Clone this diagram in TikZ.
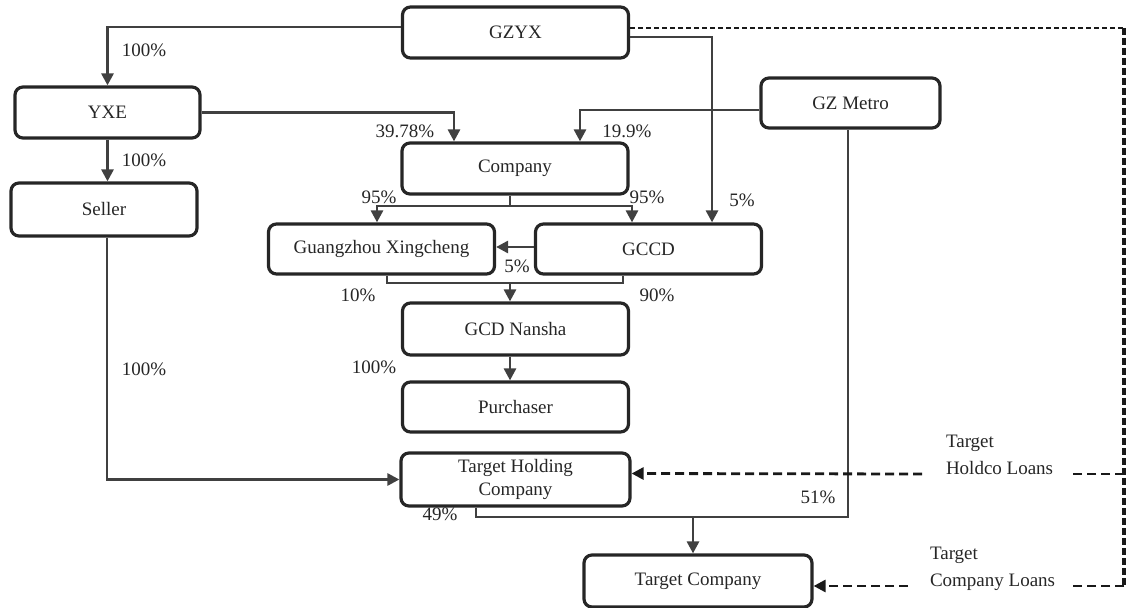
\documentclass[tikz,border=0pt]{standalone}
\usepackage{fontspec}
\setmainfont{Liberation Serif}
\usetikzlibrary{arrows.meta}

\begin{document}
\begin{tikzpicture}[x=0.5pt,y=-0.5pt,line width=1pt,>={Triangle[length=6pt,width=6pt]},
  box/.style={draw=black!85,line width=1.6pt,rounded corners=4pt,minimum width=113pt,
    minimum height=25.5pt,inner sep=0pt,align=center,text=black!85,font=\fontsize{9.5}{11.5}\selectfont},
  own/.style={draw=black!75,line width=1.4pt},
  loan/.style={draw=black!90,line width=1.4pt,dash pattern=on 4.5pt off 2.5pt},
  pct/.style={inner sep=0pt,text=black!85,font=\fontsize{9.5}{11.5}\selectfont}]
\useasboundingbox (0,0) rectangle (1128,608);
% entities
\node[box] (gzyx) at (515.5,32.5) {GZYX};
\node[box,minimum width=92.5pt] (yxe) at (107.5,112.5) {YXE};
\node[box,minimum width=93pt,minimum height=26.5pt] (seller) at (104,209.5) {Seller};
\node[box] (company) at (515,168.5) {Company};
\node[box,minimum width=89.5pt,minimum height=25pt] (gzmetro) at (850.5,103) {GZ Metro};
\node[box,minimum height=25pt] (gx) at (381.5,249) {Guangzhou Xingcheng};
\node[box,minimum height=25pt] (gccd) at (648.5,249) {GCCD};
\node[box,minimum height=26pt] (nansha) at (515.5,329) {GCD Nansha};
\node[box,minimum height=25pt] (purchaser) at (515.5,407) {Purchaser};
\node[box,minimum width=114.5pt,minimum height=26.5pt] (tholding) at (515.5,479.5) {Target Holding\\Company};
\node[box,minimum width=114pt,minimum height=26pt] (tcompany) at (698,581) {Target Company};
% ownership lines
\draw[own,->] ([yshift=2.75pt]gzyx.west) -| (yxe.north);
\draw[own,->] (yxe.east) -| ([xshift=-30.5pt]company.north);
\draw[own,->] (yxe.south) -- (yxe.south |- seller.north);
\draw[own,->] ([yshift=-3.5pt]gzmetro.west) -| ([xshift=32.5pt]company.north);
\draw[own,->] ([yshift=-2.25pt]gzyx.east) -| ([xshift=31.75pt]gccd.north);
\coordinate (cbranch) at (510,206);
\draw[own] ([xshift=-2.5pt]company.south) -- (cbranch);
\draw[own,->] (cbranch) -| ([xshift=-2.25pt]gx.north);
\draw[own,->] (cbranch) -| ([xshift=-8.25pt]gccd.north);
\draw[own,->] ([yshift=1pt]gccd.west) -- ([yshift=1pt]gx.east);
\coordinate (nbranch) at (510,283);
\draw[own] ([xshift=2.75pt]gx.south) |- ([xshift=-12.75pt]gccd.south |- nbranch)
  -- ([xshift=-12.75pt]gccd.south);
\draw[own,->] (nbranch) -- (nbranch |- nansha.north);
\draw[own,->] ([xshift=-2.75pt]nansha.south) -- ([xshift=-2.75pt]purchaser.north);
\draw[own,->] ([xshift=1.5pt]seller.south) |- (tholding.west);
\coordinate (tbranch) at (693,517);
\draw[own] ([xshift=-19.75pt]tholding.south) |- ([xshift=-1.25pt]gzmetro.south |- tbranch)
  -- ([xshift=-1.25pt]gzmetro.south);
\draw[own,->] (tbranch) -- (tbranch |- tcompany.north);
% percentages
\node[pct] (p1) at (144,50) {100\%};
\node[pct] (p2) at (405,131) {39.78\%};
\node[pct] (p3) at (144,160) {100\%};
\node[pct] (p4) at (627,131) {19.9\%};
\node[pct] (p5) at (379,197) {95\%};
\node[pct] (p6) at (647,197) {95\%};
\node[pct] (p7) at (742,200) {5\%};
\node[pct] (p8) at (517,266) {5\%};
\node[pct] (p9) at (358,295) {10\%};
\node[pct] (p10) at (657,295) {90\%};
\node[pct] (p11) at (374,367) {100\%};
\node[pct] (p12) at (144,369) {100\%};
\node[pct] (p13) at (440,514) {49\%};
\node[pct] (p14) at (818,497) {51\%};
% loans
\node[pct,anchor=west,align=left,font=\fontsize{9.5}{13.5}\selectfont] (hloans) at (945,455) {Target\\Holdco Loans};
\node[pct,anchor=west,align=left,font=\fontsize{9.5}{13.5}\selectfont] (cloans) at (929,568.5) {Target\\Company Loans};
\coordinate (ltop) at (1124,28);
\coordinate (lhold) at (1124,474);
\coordinate (lcomp) at (1124,586);
\draw[loan,line width=0.6pt,dash pattern=on 2.5pt off 1.5pt] ([yshift=2.25pt]gzyx.east) -- (ltop);
\draw[loan,line width=1.6pt,dash pattern=on 3.5pt off 1.5pt] (ltop) -- (lcomp);
\draw[loan] (lhold) -- ([xshift=7.5pt]lhold -| hloans.east);
\draw[loan,->] ([xshift=-11.5pt]lhold -| hloans.west) -- ([yshift=3pt]tholding.east);
\draw[loan] (lcomp) -- ([xshift=7.5pt]lcomp -| cloans.east);
\draw[loan,->] ([xshift=-10.5pt]lcomp -| cloans.west) -- ([yshift=-2.5pt]tcompany.east);
\end{tikzpicture}
\end{document}
